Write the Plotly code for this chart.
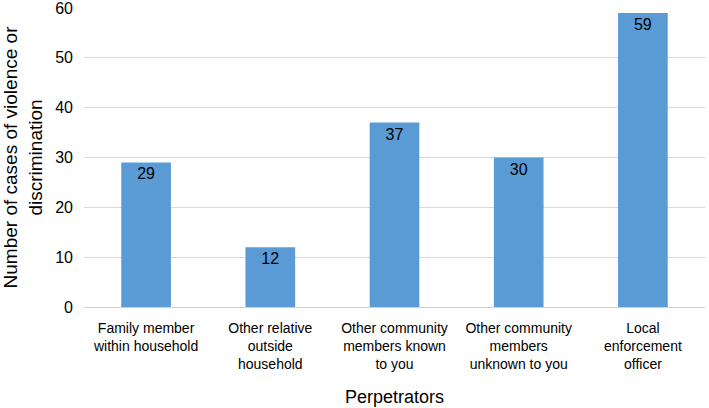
import plotly.graph_objects as go

categories = [
    "Family member<br>within household",
    "Other relative<br>outside<br>household",
    "Other community<br>members known<br>to you",
    "Other community<br>members<br>unknown to you",
    "Local<br>enforcement<br>officer",
]
cases = [29, 12, 37, 30, 59]
y_ticks = [0, 10, 20, 30, 40, 50, 60]

font_family = "Liberation Sans, Arial, sans-serif"

fig = go.Figure()
fig.add_trace(go.Bar(
    x=categories,
    y=cases,
    marker=dict(color="#5B9BD5", line=dict(width=0)),
    text=[str(v) for v in cases],
    textposition="inside",
    insidetextanchor="end",
    textfont=dict(family=font_family, size=16, color="#000000"),
    constraintext="none",
    hoverinfo="x+y",
))

fig.update_layout(
    width=709,
    height=408,
    paper_bgcolor="white",
    plot_bgcolor="white",
    margin=dict(l=84, r=4, t=8, b=101),
    bargap=0.6,
    showlegend=False,
    font=dict(family=font_family, color="#000000"),
    xaxis=dict(
        title=dict(text="Perpetrators", font=dict(size=18), standoff=19),
        tickfont=dict(size=14),
        ticklabelstandoff=8,
        showline=True,
        linecolor="#D0D0D0",
        linewidth=1,
        ticks="",
        automargin=False,
    ),
    yaxis=dict(
        title=dict(text="Number of cases of violence or<br>discrimination",
                   font=dict(size=19), standoff=10),
        range=[0, 60],
        tickvals=y_ticks,
        tickfont=dict(size=16),
        ticklabelstandoff=10,
        ticklabeloverflow="allow",
        showgrid=True,
        gridcolor="#D9D9D9",
        gridwidth=1,
        zeroline=False,
        ticks="",
        automargin=False,
    ),
)

# the page body has a default 8px margin; drop it so the figure fills the window
fig.write_html("out.html", config={"displayModeBar": False},
               post_script="document.body.style.margin='0';")
